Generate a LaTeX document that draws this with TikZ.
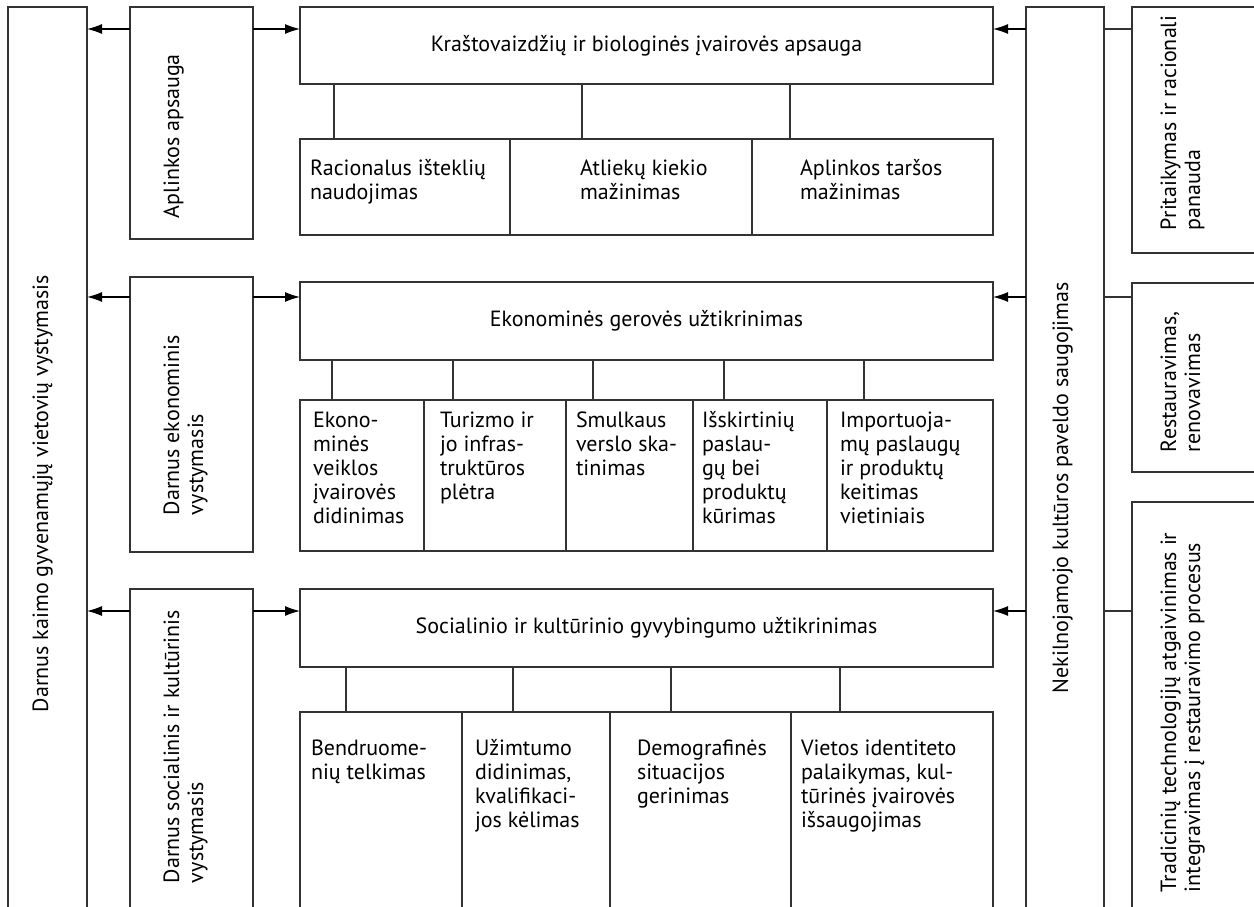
\documentclass[tikz,border=0pt]{standalone}
\usepackage{fontspec}
\setmainfont{PT Sans}
\usetikzlibrary{arrows.meta}
\newcommand\mystrut{\rule{0pt}{16pt}}
\begin{document}
\begin{tikzpicture}[x=1pt,y=-1pt,
  box/.style={draw=black!80,line width=1.2pt,anchor=north west,inner sep=0pt,outer sep=0pt,font=\fontsize{22}{24}\selectfont},
  lbl/.style={inner sep=0pt,outer sep=0pt,anchor=north west,align=left,font=\fontsize{22}{24}\selectfont},
  rlbl/.style={lbl,rotate=90},
  arr/.style={draw=black,line width=1.2pt,-{Latex[length=15pt,width=10pt]}},
  ln/.style={draw=black!80,line width=1.2pt}]
\useasboundingbox (0,0) rectangle (1254,907);
\fill[white] (0,0) rectangle (1254,907);
\clip (0,0) rectangle (1254,907);

\coordinate (r1) at (0,29);
\coordinate (r2) at (0,297);
\coordinate (r3) at (0,611);

% left column
\node[box,minimum width=79pt,minimum height=930pt] (L0) at (8,7) {};
\node[box,minimum width=123pt,minimum height=232pt] (LA) at (130,7) {};
\node[box,minimum width=123pt,minimum height=275pt] (LB) at (130,277) {};
\node[box,minimum width=123pt,minimum height=340pt] (LC) at (130,589) {};
\node[rlbl] (tL0) at (32,712) {\mystrut Darnus kaimo gyvenamųjų vietovių vystymasis};
\node[rlbl] (tLA) at (163,218) {\mystrut Aplinkos apsauga};
\node[rlbl] (tLB) at (163,515) {\mystrut Darnus ekonominis\\vystymasis};
\node[rlbl] (tLC) at (163,883) {\mystrut Darnus socialinis ir kultūrinis\\vystymasis};

% right column
\node[box,minimum width=78pt,minimum height=930pt] (R0) at (1026,7) {};
\node[box,minimum width=140pt,minimum height=246pt] (RA) at (1132,7) {};
\node[box,minimum width=140pt,minimum height=189pt] (RB) at (1132,283) {};
\node[box,minimum width=140pt,minimum height=430pt] (RC) at (1132,502) {};
\node[rlbl] (tR0) at (1052,693) {\mystrut Nekilnojamojo kultūros paveldo saugojimas};
\node[rlbl] (tRA) at (1160,230) {\mystrut Pritaikymas ir racionali\\panauda};
\node[rlbl] (tRB) at (1160,452) {\mystrut Restauravimas,\\renovavimas};
\node[rlbl] (tRC) at (1160,892) {\mystrut Tradicinių technologijų atgaivinimas ir\\integravimas į restauravimo procesus};

% title boxes
\node[box,minimum width=693pt,minimum height=77pt] (T1) at (300,7) {Kraštovaizdžių ir biologinės įvairovės apsauga};
\node[box,minimum width=693pt,minimum height=78pt] (T2) at (300,282) {Ekonominės gerovės užtikrinimas};
\node[box,minimum width=693pt,minimum height=78pt] (T3) at (300,589) {Socialinio ir kultūrinio gyvybingumo užtikrinimas};

% row A cells
\node[box,minimum width=210pt,minimum height=96pt] (A1) at (300,139) {};
\node[box,minimum width=242pt,minimum height=96pt] (A2) at (510,139) {};
\node[box,minimum width=241pt,minimum height=96pt] (A3) at (752,139) {};
\node[lbl] (tA1) at (310,159) {\mystrut Racionalus išteklių\\naudojimas};
\node[lbl] (tA2) at (580,159) {\mystrut Atliekų kiekio\\mažinimas};
\node[lbl] (tA3) at (800,159) {\mystrut Aplinkos taršos\\mažinimas};

% row B cells
\node[box,minimum width=124pt,minimum height=151pt] (B1) at (300,400) {};
\node[box,minimum width=142pt,minimum height=151pt] (B2) at (424,400) {};
\node[box,minimum width=127pt,minimum height=151pt] (B3) at (566,400) {};
\node[box,minimum width=134pt,minimum height=151pt] (B4) at (693,400) {};
\node[box,minimum width=166pt,minimum height=151pt] (B5) at (827,400) {};
\node[lbl] (tB1) at (313,411) {\mystrut Ekono-\\minės\\veiklos\\įvairovės\\didinimas};
\node[lbl] (tB2) at (440,411) {\mystrut Turizmo ir\\jo infras-\\truktūros\\plėtra};
\node[lbl] (tB3) at (576,411) {\mystrut Smulkaus\\verslo ska-\\tinimas};
\node[lbl] (tB4) at (702,411) {\mystrut Išskirtinių\\paslau-\\gų bei\\produktų\\kūrimas};
\node[lbl] (tB5) at (840,411) {\mystrut Importuoja-\\mų paslaugų\\ir produktų\\keitimas\\vietiniais};

% row C cells
\node[box,minimum width=162pt,minimum height=230pt] (C1) at (300,712) {};
\node[box,minimum width=148pt,minimum height=230pt] (C2) at (462,712) {};
\node[box,minimum width=181pt,minimum height=230pt] (C3) at (610,712) {};
\node[box,minimum width=202pt,minimum height=230pt] (C4) at (791,712) {};
\node[lbl] (tC1) at (311,739) {\mystrut Bendruome-\\nių telkimas};
\node[lbl] (tC2) at (475,739) {\mystrut Užimtumo\\didinimas,\\kvalifikaci-\\jos kėlimas};
\node[lbl] (tC3) at (637,739) {\mystrut Demografinės\\situacijos\\gerinimas};
\node[lbl] (tC4) at (801,739) {\mystrut Vietos identiteto\\palaikymas, kul-\\tūrinės įvairovės\\išsaugojimas};

% connector x positions
\coordinate (ka1) at (334,0);
\coordinate (ka2) at (582,0);
\coordinate (ka3) at (790,0);
\coordinate (kb1) at (332,0);
\coordinate (kb2) at (453,0);
\coordinate (kb3) at (593,0);
\coordinate (kb4) at (724,0);
\coordinate (kb5) at (864,0);
\coordinate (kc1) at (346,0);
\coordinate (kc2) at (513,0);
\coordinate (kc3) at (671,0);
\coordinate (kc4) at (840,0);

\draw[ln] (T1.south -| ka1) -- (A1.north -| ka1);
\draw[ln] (T1.south -| ka2) -- (A2.north -| ka2);
\draw[ln] (T1.south -| ka3) -- (A3.north -| ka3);
\draw[ln] (T2.south -| kb1) -- (B1.north -| kb1);
\draw[ln] (T2.south -| kb2) -- (B2.north -| kb2);
\draw[ln] (T2.south -| kb3) -- (B3.north -| kb3);
\draw[ln] (T2.south -| kb4) -- (B4.north -| kb4);
\draw[ln] (T2.south -| kb5) -- (B5.north -| kb5);
\draw[ln] (T3.south -| kc1) -- (C1.north -| kc1);
\draw[ln] (T3.south -| kc2) -- (C2.north -| kc2);
\draw[ln] (T3.south -| kc3) -- (C3.north -| kc3);
\draw[ln] (T3.south -| kc4) -- (C4.north -| kc4);

% arrows
\draw[arr] (LA.west |- r1) -- (L0.east |- r1);
\draw[arr] (LB.west |- r2) -- (L0.east |- r2);
\draw[arr] (LC.west |- r3) -- (L0.east |- r3);
\draw[arr] (LA.east |- r1) -- (T1.west |- r1);
\draw[arr] (LB.east |- r2) -- (T2.west |- r2);
\draw[arr] (LC.east |- r3) -- (T3.west |- r3);
\draw[arr] (R0.west |- r1) -- (T1.east |- r1);
\draw[arr] (R0.west |- r2) -- (T2.east |- r2);
\draw[arr] (R0.west |- r3) -- (T3.east |- r3);
\draw[ln] (R0.east |- r1) -- (RA.west |- r1);
\draw[ln] (R0.east |- r2) -- (RB.west |- r2);
\draw[ln] (R0.east |- r3) -- (RC.west |- r3);
\end{tikzpicture}
\end{document}
